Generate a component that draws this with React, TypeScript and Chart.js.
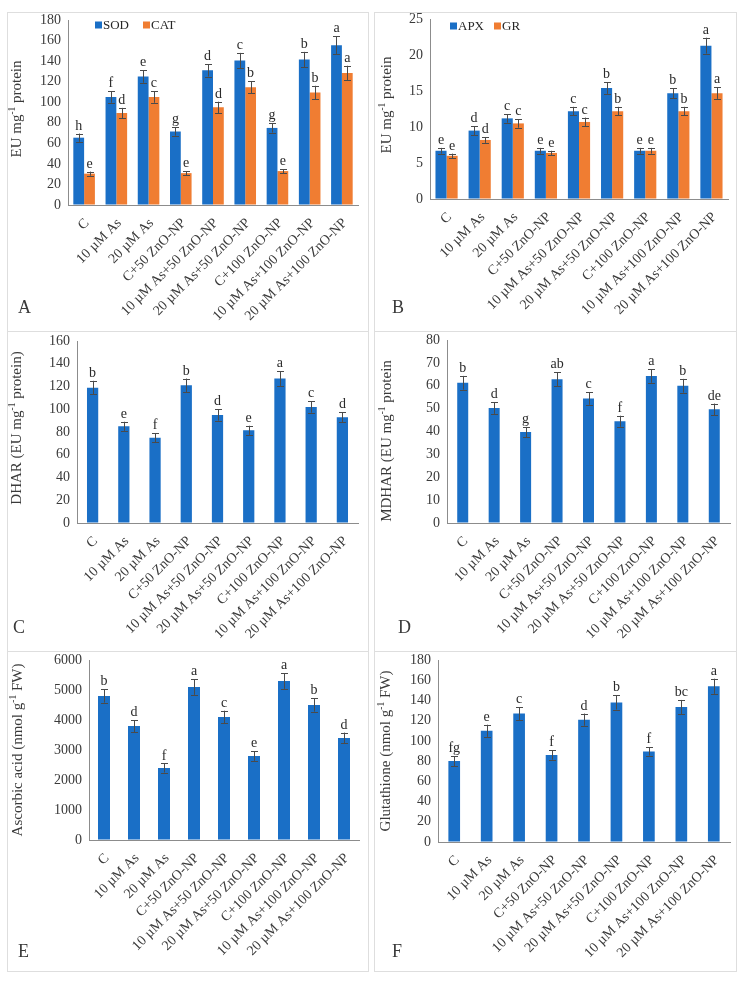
import React, { useEffect, useRef } from "react";
import { Chart, registerables } from "chart.js";

Chart.register(...registerables);

const FONT = '"Liberation Serif", "Times New Roman", serif';
const BLUE = "#1a6fc6";
const ORANGE = "#f07d32";
const TEXT = "#3a3a3a";
const AXIS = "#8c8c8c";

const categories = [
  "C",
  "10 µM As",
  "20 µM As",
  "C+50 ZnO-NP",
  "10 µM As+50 ZnO-NP",
  "20 µM As+50 ZnO-NP",
  "C+100 ZnO-NP",
  "10 µM As+100 ZnO-NP",
  "20 µM As+100 ZnO-NP",
];

// Panel A
const sodValues = [65.5, 105, 125, 71.5, 131, 140.5, 75, 141.5, 155.5];
const sodErrors = [4, 5.5, 6, 4, 6, 7.5, 4.5, 7.5, 8.5];
const sodLetters = ["h", "f", "e", "g", "d", "c", "g", "b", "a"];
const catValues = [30.5, 89.5, 105, 31, 95, 114.5, 33, 109.5, 128.5];
const catErrors = [2, 5, 5.5, 2, 5.5, 6, 2, 6.5, 7];
const catLetters = ["e", "d", "c", "e", "d", "b", "e", "b", "a"];

// Panel B
const apxValues = [6.7, 9.5, 11.2, 6.7, 12.2, 15.4, 6.7, 14.7, 21.3];
const apxErrors = [0.4, 0.6, 0.6, 0.4, 0.6, 0.8, 0.4, 0.7, 1.1];
const apxLetters = ["e", "d", "c", "e", "c", "b", "e", "b", "a"];
const grValues = [6.0, 8.2, 10.5, 6.4, 10.7, 12.2, 6.7, 12.2, 14.7];
const grErrors = [0.3, 0.4, 0.6, 0.3, 0.6, 0.6, 0.4, 0.6, 0.8];
const grLetters = ["e", "d", "c", "e", "c", "b", "e", "b", "a"];

// Panel C
const dharValues = [119, 85, 75, 121, 95, 81.5, 127, 102, 93];
const dharErrors = [6, 4, 4, 6, 5, 4, 6.5, 5, 4.5];
const dharLetters = ["b", "e", "f", "b", "d", "e", "a", "c", "d"];

// Panel D
const mdharValues = [61.3, 50.3, 39.8, 62.8, 54.4, 44.5, 64.3, 60, 49.7];
const mdharErrors = [3, 2.6, 2.2, 3, 2.7, 2.4, 3, 3, 2.5];
const mdharLetters = ["b", "d", "g", "ab", "c", "f", "a", "b", "de"];

// Panel E
const ascValues = [4800, 3800, 2400, 5100, 4100, 2800, 5300, 4500, 3400];
const ascErrors = [220, 200, 150, 260, 210, 160, 260, 220, 180];
const ascLetters = ["b", "d", "f", "a", "c", "e", "a", "b", "d"];

// Panel F
const gshValues = [80, 110, 127, 86, 121, 138, 89.5, 133.5, 154];
const gshErrors = [5, 6, 6.5, 4.5, 6, 7, 4, 7, 7.5];
const gshLetters = ["fg", "e", "c", "f", "d", "b", "f", "bc", "a"];

type Seg = { t: string; sup?: boolean };
type DS = { label: string; values: number[]; errors: number[]; letters: string[]; color: string };
type Panel = {
  id: string;
  left: number;
  top: number;
  w: number;
  h: number;
  area: { l: number; t: number; r: number; b: number };
  yMax: number;
  yStep: number;
  catPct: number;
  datasets: DS[];
  title: { segs: Seg[]; x: number; y: number };
  tag: { t: string; x: number; y: number };
  legend?: { xs: number[]; y: number };
};

const mg1 = (pre: string, post: string): Seg[] => [{ t: pre }, { t: "-1", sup: true }, { t: post }];

const panels: Panel[] = [
  {
    id: "A", left: 7, top: 12, w: 362, h: 320,
    area: { l: 61, t: 8, r: 351, b: 193 },
    yMax: 180, yStep: 20, catPct: 0.67,
    datasets: [
      { label: "SOD", values: sodValues, errors: sodErrors, letters: sodLetters, color: BLUE },
      { label: "CAT", values: catValues, errors: catErrors, letters: catLetters, color: ORANGE },
    ],
    title: { segs: mg1("EU mg", " protein"), x: 10, y: 97 },
    tag: { t: "A", x: 11, y: 301 },
    legend: { xs: [88, 136], y: 13 },
  },
  {
    id: "B", left: 374, top: 12, w: 363, h: 320,
    area: { l: 56, t: 7, r: 354, b: 187 },
    yMax: 25, yStep: 5, catPct: 0.67,
    datasets: [
      { label: "APX", values: apxValues, errors: apxErrors, letters: apxLetters, color: BLUE },
      { label: "GR", values: grValues, errors: grErrors, letters: grLetters, color: ORANGE },
    ],
    title: { segs: mg1("EU mg", " protein"), x: 13, y: 93 },
    tag: { t: "B", x: 18, y: 301 },
    legend: { xs: [76, 120], y: 14 },
  },
  {
    id: "C", left: 7, top: 331, w: 362, h: 321,
    area: { l: 70, t: 10, r: 351, b: 192 },
    yMax: 160, yStep: 20, catPct: 0.36,
    datasets: [{ label: "DHAR", values: dharValues, errors: dharErrors, letters: dharLetters, color: BLUE }],
    title: { segs: mg1("DHAR (EU mg", " protein)"), x: 10, y: 97 },
    tag: { t: "C", x: 6, y: 302 },
  },
  {
    id: "D", left: 374, top: 331, w: 363, h: 321,
    area: { l: 73, t: 9, r: 356, b: 192 },
    yMax: 80, yStep: 10, catPct: 0.35,
    datasets: [{ label: "MDHAR", values: mdharValues, errors: mdharErrors, letters: mdharLetters, color: BLUE }],
    title: { segs: mg1("MDHAR (EU mg", " protein"), x: 13, y: 110 },
    tag: { t: "D", x: 24, y: 302 },
  },
  {
    id: "E", left: 7, top: 651, w: 362, h: 321,
    area: { l: 82, t: 9, r: 352, b: 189 },
    yMax: 6000, yStep: 1000, catPct: 0.4,
    datasets: [{ label: "AsA", values: ascValues, errors: ascErrors, letters: ascLetters, color: BLUE }],
    title: { segs: [{ t: "Ascorbic acid (nmol g" }, { t: "-1", sup: true }, { t: " FW)" }], x: 11, y: 99 },
    tag: { t: "E", x: 11, y: 306 },
  },
  {
    id: "F", left: 374, top: 651, w: 363, h: 321,
    area: { l: 64, t: 9, r: 356, b: 191 },
    yMax: 180, yStep: 20, catPct: 0.36,
    datasets: [{ label: "GSH", values: gshValues, errors: gshErrors, letters: gshLetters, color: BLUE }],
    title: { segs: [{ t: "Glutathione (nmol g" }, { t: "-1", sup: true }, { t: " FW)" }], x: 12, y: 100 },
    tag: { t: "F", x: 18, y: 306 },
  },
];

const decorPlugin = {
  id: "decor",
  afterDatasetsDraw(chart: any) {
    const ctx = chart.ctx as CanvasRenderingContext2D;
    const ys = chart.scales.y;
    ctx.save();
    chart.data.datasets.forEach((ds: any, i: number) => {
      const meta = chart.getDatasetMeta(i);
      meta.data.forEach((el: any, j: number) => {
        const v = ds.data[j];
        const e = ds.errors[j];
        const x = el.x;
        const yT = ys.getPixelForValue(v + e);
        const yB = ys.getPixelForValue(v - e);
        ctx.strokeStyle = "#4a4a4a";
        ctx.lineWidth = 1;
        ctx.beginPath();
        ctx.moveTo(Math.round(x) + 0.5, yT);
        ctx.lineTo(Math.round(x) + 0.5, yB);
        ctx.moveTo(Math.round(x) - 3, Math.round(yT) + 0.5);
        ctx.lineTo(Math.round(x) + 4, Math.round(yT) + 0.5);
        ctx.moveTo(Math.round(x) - 3, Math.round(yB) + 0.5);
        ctx.lineTo(Math.round(x) + 4, Math.round(yB) + 0.5);
        ctx.stroke();
        ctx.fillStyle = "#2a2a2a";
        ctx.font = `14px ${FONT}`;
        ctx.textAlign = "center";
        ctx.textBaseline = "alphabetic";
        ctx.fillText(ds.letters[j], x, yT - 4);
      });
    });
    ctx.restore();
  },
  afterDraw(chart: any, _args: any, opts: any) {
    const ctx = chart.ctx as CanvasRenderingContext2D;
    const p: Panel = opts.panel;
    ctx.save();
    const base = 15;
    const sup = 9.5;
    let total = 0;
    p.title.segs.forEach((s) => {
      ctx.font = `${s.sup ? sup : base}px ${FONT}`;
      total += ctx.measureText(s.t).width;
    });
    ctx.translate(p.title.x, p.title.y);
    ctx.rotate(-Math.PI / 2);
    ctx.fillStyle = TEXT;
    ctx.textBaseline = "middle";
    ctx.textAlign = "left";
    let cx = -total / 2;
    p.title.segs.forEach((s) => {
      ctx.font = `${s.sup ? sup : base}px ${FONT}`;
      ctx.fillText(s.t, cx, s.sup ? -5 : 0);
      cx += ctx.measureText(s.t).width;
    });
    ctx.restore();

    ctx.save();
    ctx.fillStyle = TEXT;
    ctx.font = `18px ${FONT}`;
    ctx.textAlign = "left";
    ctx.textBaseline = "alphabetic";
    ctx.fillText(p.tag.t, p.tag.x, p.tag.y);
    if (p.legend) {
      p.datasets.forEach((d, i) => {
        const lx = p.legend!.xs[i];
        const ly = p.legend!.y;
        ctx.fillStyle = d.color;
        ctx.fillRect(lx, ly - 3.5, 7, 7);
        ctx.fillStyle = "#262626";
        ctx.font = `13px ${FONT}`;
        ctx.textBaseline = "middle";
        ctx.fillText(d.label, lx + 8, ly + 1);
      });
    }
    ctx.restore();
  },
};

function PanelChart({ p }: { p: Panel }) {
  const ref = useRef<HTMLCanvasElement | null>(null);
  useEffect(() => {
    if (!ref.current) return;
    const a = p.area;
    const chart = new Chart(ref.current, {
      type: "bar",
      data: {
        labels: categories,
        datasets: p.datasets.map((d) => ({
          label: d.label,
          data: d.values,
          errors: d.errors,
          letters: d.letters,
          backgroundColor: d.color,
          borderWidth: 0,
          categoryPercentage: p.catPct,
          barPercentage: 1,
        })) as any,
      },
      options: {
        responsive: false,
        animation: false,
        maintainAspectRatio: false,
        layout: { padding: { left: 0, top: a.t, right: p.w - a.r, bottom: 0 } },
        plugins: {
          legend: { display: false },
          tooltip: { enabled: false },
          decor: { panel: p },
        } as any,
        scales: {
          x: {
            grid: { drawOnChartArea: false, drawTicks: false, color: "transparent" },
            border: { display: true, color: AXIS, width: 1 },
            ticks: {
              autoSkip: false,
              minRotation: 45,
              maxRotation: 45,
              padding: 10,
              labelOffset: 3,
              color: TEXT,
              font: { family: FONT, size: 14 },
            },
            afterFit: (axis: any) => {
              axis.height = p.h - a.b;
              axis.paddingLeft = 0;
              axis.paddingRight = 0;
            },
          },
          y: {
            min: 0,
            max: p.yMax,
            grid: { drawOnChartArea: false, drawTicks: false, color: "transparent" },
            border: { display: true, color: AXIS, width: 1 },
            ticks: {
              stepSize: p.yStep,
              padding: 7,
              color: TEXT,
              font: { family: FONT, size: 14 },
              callback: (v: any) => String(v),
            },
            afterFit: (axis: any) => {
              axis.width = a.l;
              axis.paddingTop = 0;
              axis.paddingBottom = 0;
            },
          },
        },
      },
      plugins: [decorPlugin],
    });
    return () => chart.destroy();
  }, [p]);
  return (
    <>
      <canvas
        ref={ref}
        width={p.w}
        height={p.h}
        style={{ position: "absolute", left: p.left, top: p.top, width: p.w, height: p.h }}
      />
      <div
        style={{
          position: "absolute",
          left: p.left,
          top: p.top,
          width: p.w,
          height: p.h,
          boxSizing: "border-box",
          border: "1px solid #dedede",
          pointerEvents: "none",
        }}
      />
    </>
  );
}

export default function App() {
  return (
    <div style={{ position: "absolute", left: 0, top: 0, width: 749, height: 984, background: "#fff" }}>
      {panels.map((p) => (
        <PanelChart key={p.id} p={p} />
      ))}
    </div>
  );
}
